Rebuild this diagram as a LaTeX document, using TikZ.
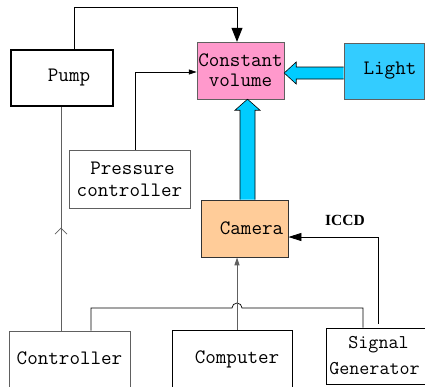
\documentclass[tikz,border=0pt]{standalone}
\usepackage{fontspec}
\newfontfamily\labfont{Liberation Serif}
\usetikzlibrary{arrows.meta,calc,decorations.markings}
\definecolor{cvpink}{HTML}{FF99CC}
\definecolor{lightblue}{HTML}{33CCFF}
\definecolor{arrowblue}{HTML}{00CCFF}
\definecolor{camorange}{HTML}{FFCC99}
\definecolor{lgray}{HTML}{606060}
\begin{document}
\begin{tikzpicture}[x=1pt,y=-1pt,
  box/.style={draw, inner sep=0pt, align=center, font=\ttfamily\fontsize{20.5}{22}\selectfont},
  wire/.style={line width=0.8pt, black},
  graywire/.style={line width=1pt, lgray},
  bigtip/.style={-{Triangle[width=11pt,length=14pt]}},
  smalltip/.style={-{Triangle[width=5pt,length=8pt]}},
  midtip/.style={-{Triangle[width=8pt,length=13pt]}},
  blockarrow/.style={fill=arrowblue, draw=black, line width=0.6pt},
  midbarb/.style={postaction={decorate}, decoration={markings,
     mark=at position #1 with {\arrow{Straight Barb[width=12pt,length=6pt,line width=0.8pt]}}}}
]
\useasboundingbox (0,0) rectangle (425,386);
\clip (0,0) rectangle (425,386);

% nodes
\node[box, line width=1.3pt, minimum width=102pt, minimum height=56pt] (pump) at (62,78) {\hspace*{14pt}Pump};
\node[box, fill=cvpink, draw=lgray, minimum width=87pt, minimum height=57pt] (cv) at (240.5,70.5) {Constant\\[-2pt]volume};
\node[box, fill=lightblue, draw=lgray, line width=0.8pt, minimum width=80pt, minimum height=56pt] (light) at (384,71) {\hspace*{12pt}Light};
\node[box, draw=lgray, minimum width=121pt, minimum height=58pt] (pressure) at (129.5,179) {\hspace*{6pt}Pressure\\controller};
\node[box, fill=camorange, draw=black!80, line width=0.8pt, minimum width=87pt, minimum height=57pt] (camera) at (244.5,228.5) {\hspace*{14pt}Camera};
\node[box, draw=lgray, line width=0.8pt, minimum width=121pt, minimum height=64pt, text depth=10pt] (controller) at (69.5,363) {Controller};
\node[box, line width=0.8pt, minimum width=120pt, minimum height=65pt, text depth=10pt] (computer) at (232,362.5) {\hspace*{10pt}Computer};
\node[box, line width=0.8pt, minimum width=109pt, minimum height=56pt, font=\ttfamily\fontsize{19.5}{21}\selectfont] (signal) at (380.5,356) {\hspace*{-4pt}Signal\\[5pt]Generator\hspace*{12pt}};
\node[font=\labfont\bfseries\fontsize{15.5}{17}\selectfont, inner sep=0pt] (iccd) at (345,220) {ICCD};

% helper coordinates
\coordinate (ptop) at (74,7);
\coordinate (c61) at (61,0);
\coordinate (c91) at (91,308);
\coordinate (c363) at (363,308);
\coordinate (c237) at (237,0);
\coordinate (c378) at (378,237);
\coordinate (c135) at (135,72);

% connectors
\draw[wire, bigtip] (ptop |- pump.north) -- (ptop) -| ([xshift=-3.5pt]cv.north);
\draw[wire, smalltip] (c135 |- pressure.north) -- (c135) -- (c135 -| cv.west);
\draw[graywire, midbarb=0.46] (c61 |- controller.north) -- (c61 |- pump.south);
\draw[wire, line width=0.7pt] (c91 |- controller.north) -- (c91) -- (232,308)
   arc[start angle=180, end angle=0, radius=5pt] -- (c363) -- (c363 |- signal.north);
\draw[graywire, smalltip] (c237 |- computer.north) -- (c237 |- camera.south);
\draw[wire, midtip] ([yshift=4pt]c378 |- signal.north) -- (c378) -- (c378 -| camera.east);

% block arrows
\draw[blockarrow] ($(light.west)+(0,-4)$) -- ($(cv.east)+(12,-3.5)$) -- ($(cv.east)+(12,-8.5)$)
   -- ($(cv.east)+(0,2.5)$) -- ($(cv.east)+(12,13.5)$) -- ($(cv.east)+(12,8.5)$)
   -- ($(light.west)+(0,8)$);
\draw[blockarrow] ($(camera.north)+(-4.5,0)$) -- ($(cv.south)+(-0.5,11)$) -- ($(cv.south)+(-5.5,11)$)
   -- ($(cv.south)+(7,0)$) -- ($(cv.south)+(19.5,11)$) -- ($(cv.south)+(14.5,11)$)
   -- ($(camera.north)+(10.5,0)$);
\end{tikzpicture}
\end{document}
